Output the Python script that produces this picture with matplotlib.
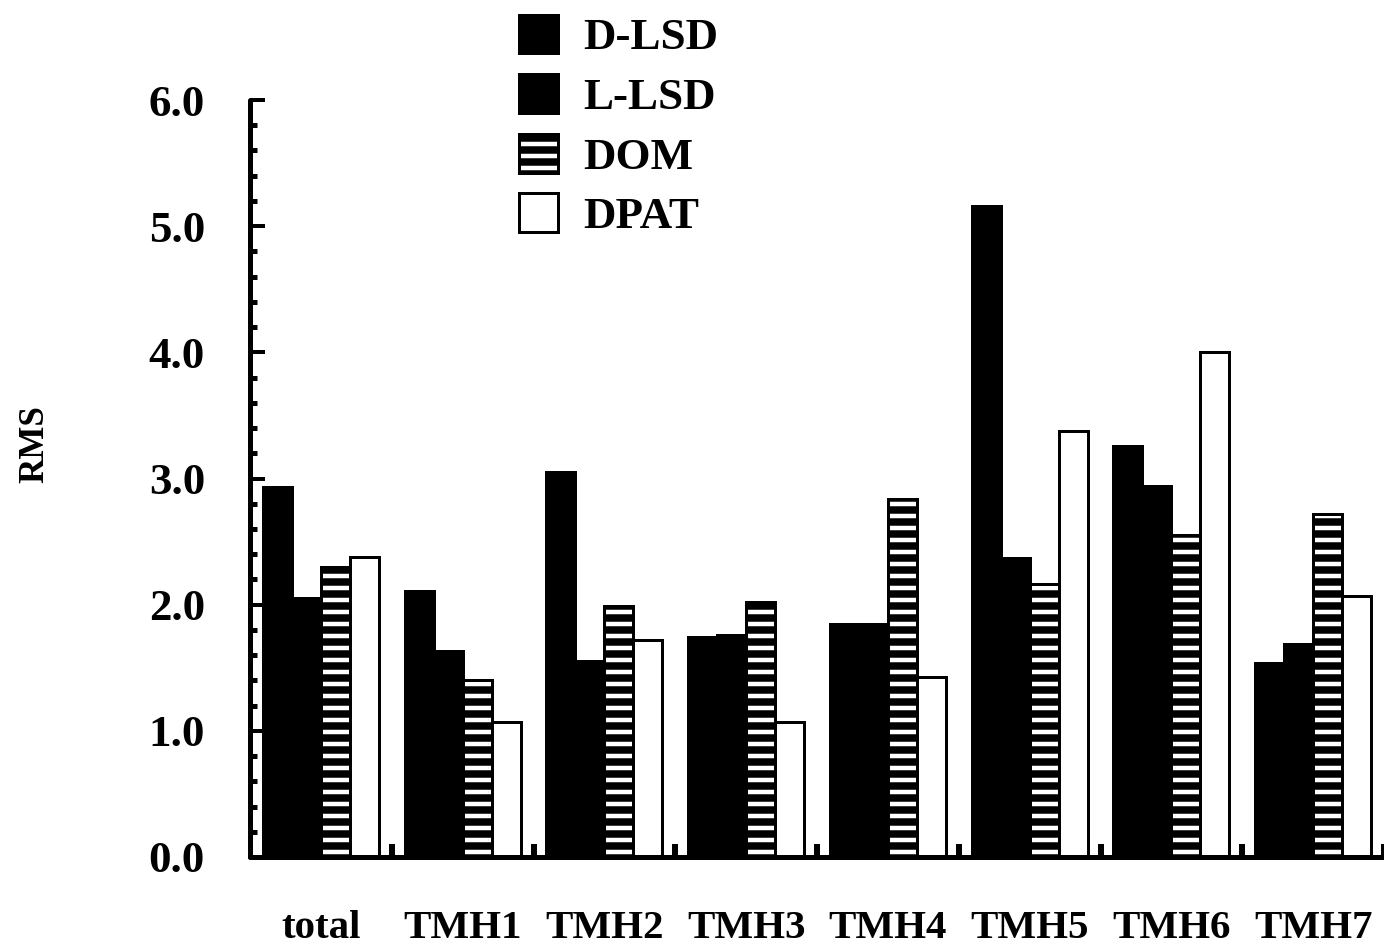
import numpy as np
import matplotlib
matplotlib.use("Agg")
import matplotlib.pyplot as plt
from matplotlib.ticker import MultipleLocator, FixedLocator, FormatStrFormatter

# RMS per helix segment for the four ligands
groups = ["total", "TMH1", "TMH2", "TMH3", "TMH4", "TMH5", "TMH6", "TMH7"]
d_lsd = [2.93, 2.11, 3.05, 1.74, 1.85, 5.16, 3.26, 1.54]
l_lsd = [2.05, 1.63, 1.55, 1.76, 1.85, 2.37, 2.94, 1.69]
dom = [2.30, 1.40, 1.99, 2.02, 2.84, 2.16, 2.55, 2.72]
dpat = [2.38, 1.07, 1.72, 1.07, 1.43, 3.38, 4.00, 2.07]
series_names = ["D-LSD", "L-LSD", "DOM", "DPAT"]

# dpi 72 -> 1 pt == 1 px, hatch pitch of '-' is 12 px
DPI = 72
plt.rcParams["font.family"] = ["Liberation Serif", "DejaVu Serif"]
plt.rcParams["font.weight"] = "bold"
plt.rcParams["hatch.linewidth"] = 7.5
plt.rcParams["hatch.color"] = "black"

fig = plt.figure(figsize=(1384 / DPI, 950 / DPI), dpi=DPI)
ax = fig.add_axes([250 / 1384, 93 / 950, 1134 / 1384, 757 / 950])

x = np.arange(len(groups))
w = 0.205
styles = [
    dict(facecolor="black", edgecolor="black"),
    dict(facecolor="black", edgecolor="black"),
    dict(facecolor="white", edgecolor="black", hatch="-"),
    dict(facecolor="white", edgecolor="black"),
]
for k, (vals, name, st) in enumerate(zip([d_lsd, l_lsd, dom, dpat], series_names, styles)):
    ax.bar(x + (k - 1.5) * w, vals, width=w, linewidth=3, label=name, **st)

ax.set_xlim(-0.5, 7.5)
ax.set_ylim(0, 6)

# axes frame
for side in ["top", "right"]:
    ax.spines[side].set_visible(False)
for side in ["left", "bottom"]:
    ax.spines[side].set_linewidth(5)
    ax.spines[side].set_capstyle("round")

ax.yaxis.set_major_locator(MultipleLocator(1.0))
ax.yaxis.set_minor_locator(MultipleLocator(0.2))
ax.yaxis.set_major_formatter(FormatStrFormatter("%.1f"))
ax.tick_params(axis="y", which="major", direction="in", length=15, width=4,
               pad=45, labelsize=45)
ax.tick_params(axis="y", which="minor", direction="in", length=7, width=5)

ax.set_xticks(x)
ax.set_xticklabels(groups)
ax.xaxis.set_minor_locator(FixedLocator(x + 0.5))
ax.tick_params(axis="x", which="major", length=0, pad=53, labelsize=41)
ax.tick_params(axis="x", which="minor", direction="in", length=13, width=6)

ax.set_ylabel("RMS", fontsize=35, fontweight="bold")
ax.yaxis.set_label_coords(-0.175, 0.545)

leg = fig.legend(loc="upper left", bbox_to_anchor=(496 / 1384, 1 + 8 / 950),
                 frameon=False, fontsize=45, handlelength=0.88, handleheight=0.95,
                 handletextpad=0.55, labelspacing=0.35, borderpad=0)

fig.savefig("out.png", dpi=DPI, facecolor="white")
